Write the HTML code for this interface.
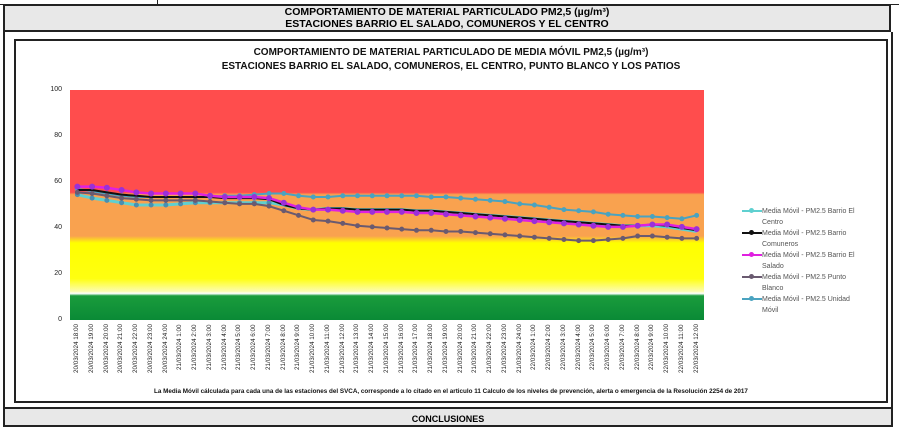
<!DOCTYPE html>
<html><head><meta charset="utf-8"><style>
body{margin:0;width:899px;height:422px;background:#fff;position:relative;overflow:hidden;font-family:"Liberation Sans",sans-serif}
.abs{position:absolute}
.hdr{left:3px;top:4px;width:888px;height:28px;background:#e8e8e8;border:2px solid #222;text-align:center;font-weight:bold;font-size:10.5px;line-height:12px;padding-top:0px;box-sizing:border-box}
.frame{left:3px;top:32px;width:890px;height:376px;border-left:2px solid #222;border-right:2px solid #222;box-sizing:border-box}
.box{left:14px;top:39px;width:874px;height:364px;border:2px solid #222;box-sizing:border-box}
.title{left:14px;top:46px;width:874px;text-align:center;font-weight:bold;font-size:10px;line-height:14px;color:#111}
.yl{font-size:7px;color:#222;width:30px;text-align:right;left:32px}
.xl{left:70px;top:324px;width:634px;height:62px;display:flex}
.xl div{flex:1;writing-mode:vertical-rl;transform:rotate(180deg);font-size:6.3px;color:#222;text-align:right;line-height:14.7px}
.leg{left:742px;top:206px;font-size:7px;color:#555;line-height:11px}
.leg div{position:relative;padding-left:20px;height:22px;width:100px}
.leg i{position:absolute;left:0;top:4px;width:20px;height:2px}
.leg i:after{content:"";position:absolute;left:7px;top:-2px;width:5px;height:5px;border-radius:50%;background:inherit}
.foot{left:14px;top:388px;width:874px;text-align:center;font-size:6.3px;font-weight:bold;color:#111}
.bot{left:3px;top:407px;width:890px;height:20px;background:#e8e8e8;border:2px solid #222;box-sizing:border-box;text-align:center;font-weight:bold;font-size:9px;line-height:20px}
</style></head><body>
<div class="abs" style="left:0;top:0;width:899px;height:4px;border-bottom:1px solid #222"></div>
<div class="abs" style="left:157px;top:0;width:1px;height:4px;background:#222"></div>
<div class="abs hdr">COMPORTAMIENTO DE MATERIAL PARTICULADO PM2,5 (µg/m³)<br>ESTACIONES BARRIO EL SALADO, COMUNEROS Y EL CENTRO</div>
<div class="abs frame"></div>
<div class="abs box"></div>
<div class="abs title">COMPORTAMIENTO DE MATERIAL PARTICULADO DE MEDIA MÓVIL PM2,5 (µg/m³)<br>ESTACIONES BARRIO EL SALADO, COMUNEROS, EL CENTRO, PUNTO BLANCO Y LOS PATIOS</div>
<div class="abs yl" style="top:86px">100</div>
<div class="abs yl" style="top:132px">80</div>
<div class="abs yl" style="top:178px">60</div>
<div class="abs yl" style="top:224px">40</div>
<div class="abs yl" style="top:270px">20</div>
<div class="abs yl" style="top:316px">0</div>
<svg class="abs" style="left:70px;top:90px" width="634" height="230">
<defs><linearGradient id="g" x1="0" y1="0" x2="0" y2="1">
<stop offset="0" stop-color="#ff4d4d"/><stop offset="0.445" stop-color="#ff4d4d"/><stop offset="0.455" stop-color="#f9a24f"/><stop offset="0.635" stop-color="#f9a24f"/><stop offset="0.665" stop-color="#ffff00"/><stop offset="0.82" stop-color="#ffff10"/><stop offset="0.875" stop-color="#fcfcb0"/><stop offset="0.885" stop-color="#fff"/><stop offset="0.895" stop-color="#1a9c3c"/><stop offset="1" stop-color="#0a8a36"/>
</linearGradient></defs>
<rect width="634" height="230" fill="url(#g)"/>
<svg width="634" height="230" viewBox="-0.5 -100 43 100" preserveAspectRatio="none">
<g transform="scale(1,-1)" fill="none" stroke-linejoin="round">
<g stroke="#4aa3c0">
<polyline vector-effect="non-scaling-stroke" stroke-width="2" points="0,57 1,56 2,55 3,54 4,53.5 5,53.5 6,53.5 7,53.5 8,53.5 9,53.5 10,54 11,54 12,54.5 13,55 14,55 15,54 16,53.5 17,53.5 18,54 19,54 20,54 21,54 22,54 23,54 24,53.5 25,53.5 26,53 27,52.5 28,52 29,51.5 30,50.5 31,50 32,49 33,48 34,47.5 35,47 36,46 37,45.5 38,45 39,45 40,44.5 41,44 42,45.5"/>
<path vector-effect="non-scaling-stroke" stroke-width="5" stroke-linecap="round" d="M0,57h0M1,56h0M2,55h0M3,54h0M4,53.5h0M5,53.5h0M6,53.5h0M7,53.5h0M8,53.5h0M9,53.5h0M10,54h0M11,54h0M12,54.5h0M13,55h0M14,55h0M15,54h0M16,53.5h0M17,53.5h0M18,54h0M19,54h0M20,54h0M21,54h0M22,54h0M23,54h0M24,53.5h0M25,53.5h0M26,53h0M27,52.5h0M28,52h0M29,51.5h0M30,50.5h0M31,50h0M32,49h0M33,48h0M34,47.5h0M35,47h0M36,46h0M37,45.5h0M38,45h0M39,45h0M40,44.5h0M41,44h0M42,45.5h0"/>
</g>
<g stroke="#5fd0d0">
<polyline vector-effect="non-scaling-stroke" stroke-width="3" points="0,54.5 1,53 2,52 3,51 4,50 5,50 6,50 7,50.5 8,51 9,51 10,51 11,51 12,51 13,51 14,50 15,48.5 16,48 17,48.5 18,48.5 19,48 20,48 21,48 22,48 23,47.5 24,47.5 25,47 26,46.5 27,46 28,45.5 29,45 30,44.5 31,44 32,43.5 33,43 34,42.5 35,42 36,41.5 37,41 38,41 39,41 40,40.5 41,39.5 42,38.5"/>
<path vector-effect="non-scaling-stroke" stroke="#4a8fb0" stroke-width="5" stroke-linecap="round" d="M0,54.5h0M1,53h0M2,52h0M3,51h0M4,50h0M5,50h0M6,50h0M7,50.5h0M8,51h0M9,51h0M10,51h0M11,51h0M12,51h0M13,51h0"/>
</g>
<g stroke="#111">
<polyline vector-effect="non-scaling-stroke" stroke-width="2" points="0,56.5 1,56.5 2,55.5 3,54.5 4,54 5,53.5 6,53.5 7,53.5 8,53.5 9,53.5 10,53 11,53 12,53 13,52.5 14,50 15,48.5 16,48 17,48.5 18,48.5 19,48 20,48 21,48 22,48 23,47.5 24,47.5 25,47 26,46.5 27,46 28,45.5 29,45 30,44.5 31,44 32,43.5 33,43 34,42.5 35,42 36,41.5 37,41 38,41 39,41.5 40,41 41,40 42,39"/>
</g>
<g stroke="#e020e0">
<polyline vector-effect="non-scaling-stroke" stroke-width="2.5" points="0,58 1,58 2,57.5 3,56.5 4,55.5 5,55 6,55 7,55 8,55 9,54 10,53.5 11,53.5 12,53.5 13,53 14,51 15,49 16,48 17,48 18,47.5 19,47 20,47 21,47 22,47 23,46.5 24,46.5 25,46 26,45.5 27,45 28,44.5 29,44 30,43.5 31,43 32,42.5 33,42 34,41.5 35,41 36,40.5 37,40.5 38,41 39,41.5 40,41.5 41,40.5 42,39.5"/>
<path vector-effect="non-scaling-stroke" stroke="#9a30d8" stroke-width="6" stroke-linecap="round" d="M0,58h0M1,58h0M2,57.5h0M3,56.5h0M4,55.5h0M5,55h0M6,55h0M7,55h0M8,55h0M9,54h0M10,53.5h0M11,53.5h0M12,53.5h0M13,53h0M14,51h0M15,49h0M16,48h0M17,48h0M18,47.5h0M19,47h0M20,47h0M21,47h0M22,47h0M23,46.5h0M24,46.5h0M25,46h0M26,45.5h0M27,45h0M28,44.5h0M29,44h0M30,43.5h0M31,43h0M32,42.5h0M33,42h0M34,41.5h0M35,41h0M36,40.5h0M37,40.5h0M38,41h0M39,41.5h0M40,41.5h0M41,40.5h0M42,39.5h0"/>
</g>
<g stroke="#6a5a70">
<polyline vector-effect="non-scaling-stroke" stroke-width="2" points="0,55.5 1,55 2,54 3,53 4,52.5 5,52 6,52 7,52 8,52 9,51.5 10,51 11,50.5 12,50.5 13,49.5 14,47.5 15,45.5 16,43.5 17,43 18,42 19,41 20,40.5 21,40 22,39.5 23,39 24,39 25,38.5 26,38.5 27,38 28,37.5 29,37 30,36.5 31,36 32,35.5 33,35 34,34.5 35,34.5 36,35 37,35.5 38,36.5 39,36.5 40,36 41,35.5 42,35.5"/>
<path vector-effect="non-scaling-stroke" stroke-width="5" stroke-linecap="round" d="M0,55.5h0M1,55h0M2,54h0M3,53h0M4,52.5h0M5,52h0M6,52h0M7,52h0M8,52h0M9,51.5h0M10,51h0M11,50.5h0M12,50.5h0M13,49.5h0M14,47.5h0M15,45.5h0M16,43.5h0M17,43h0M18,42h0M19,41h0M20,40.5h0M21,40h0M22,39.5h0M23,39h0M24,39h0M25,38.5h0M26,38.5h0M27,38h0M28,37.5h0M29,37h0M30,36.5h0M31,36h0M32,35.5h0M33,35h0M34,34.5h0M35,34.5h0M36,35h0M37,35.5h0M38,36.5h0M39,36.5h0M40,36h0M41,35.5h0M42,35.5h0"/>
</g>
</g></svg></svg>
<div class="abs xl">
<div>20/03/2024 18:00</div><div>20/03/2024 19:00</div><div>20/03/2024 20:00</div><div>20/03/2024 21:00</div><div>20/03/2024 22:00</div><div>20/03/2024 23:00</div><div>20/03/2024 24:00</div><div>21/03/2024 1:00</div><div>21/03/2024 2:00</div><div>21/03/2024 3:00</div><div>21/03/2024 4:00</div><div>21/03/2024 5:00</div><div>21/03/2024 6:00</div><div>21/03/2024 7:00</div><div>21/03/2024 8:00</div><div>21/03/2024 9:00</div><div>21/03/2024 10:00</div><div>21/03/2024 11:00</div><div>21/03/2024 12:00</div><div>21/03/2024 13:00</div><div>21/03/2024 14:00</div><div>21/03/2024 15:00</div><div>21/03/2024 16:00</div><div>21/03/2024 17:00</div><div>21/03/2024 18:00</div><div>21/03/2024 19:00</div><div>21/03/2024 20:00</div><div>21/03/2024 21:00</div><div>21/03/2024 22:00</div><div>21/03/2024 23:00</div><div>21/03/2024 24:00</div><div>22/03/2024 1:00</div><div>22/03/2024 2:00</div><div>22/03/2024 3:00</div><div>22/03/2024 4:00</div><div>22/03/2024 5:00</div><div>22/03/2024 6:00</div><div>22/03/2024 7:00</div><div>22/03/2024 8:00</div><div>22/03/2024 9:00</div><div>22/03/2024 10:00</div><div>22/03/2024 11:00</div><div>22/03/2024 12:00</div>
</div>
<div class="abs leg">
<div><i style="background:#5fd0d0"></i>Media Móvil - PM2.5 Barrio El Centro</div>
<div><i style="background:#111"></i>Media Móvil - PM2.5 Barrio Comuneros</div>
<div><i style="background:#e020e0"></i>Media Móvil - PM2.5 Barrio El Salado</div>
<div><i style="background:#6a5a70"></i>Media Móvil - PM2.5 Punto Blanco</div>
<div><i style="background:#4aa3c0"></i>Media Móvil - PM2.5 Unidad Móvil</div>
</div>
<div class="abs foot">La Media Móvil cálculada para cada una de las estaciones del SVCA, corresponde a lo citado en el articulo 11 Calculo de los niveles de prevención, alerta o emergencia de la Resolución 2254 de 2017</div>
<div class="abs bot">CONCLUSIONES</div>
</body></html>
